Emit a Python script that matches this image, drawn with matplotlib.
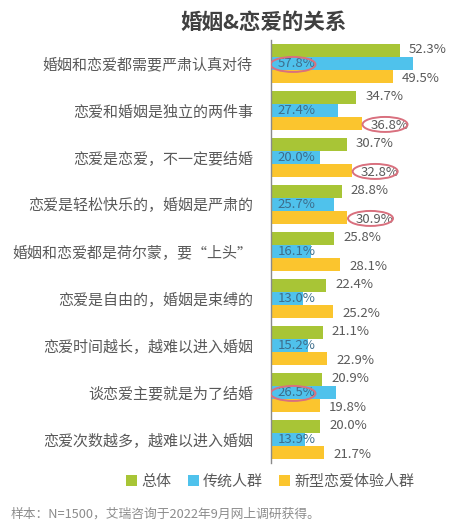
import matplotlib
matplotlib.use("Agg")
import matplotlib.pyplot as plt
from matplotlib.patches import Ellipse, Patch

plt.rcParams['font.family'] = ['Noto Sans CJK SC', 'DejaVu Sans']

categories = [
    "婚姻和恋爱都需要严肃认真对待",
    "恋爱和婚姻是独立的两件事",
    "恋爱是恋爱，不一定要结婚",
    "恋爱是轻松快乐的，婚姻是严肃的",
    "婚姻和恋爱都是荷尔蒙，要“上头”",
    "恋爱是自由的，婚姻是束缚的",
    "恋爱时间越长，越难以进入婚姻",
    "谈恋爱主要就是为了结婚",
    "恋爱次数越多，越难以进入婚姻",
]
total = [52.3, 34.7, 30.7, 28.8, 25.8, 22.4, 21.1, 20.9, 20.0]
traditional = [57.8, 27.4, 20.0, 25.7, 16.1, 13.0, 15.2, 26.5, 13.9]
new_type = [49.5, 36.8, 32.8, 30.9, 28.1, 25.2, 22.9, 19.8, 21.7]
series_names = ["总体", "传统人群", "新型恋爱体验人群"]
# highlighted labels: (category index, series index)
highlights = [(0, 1), (1, 2), (2, 2), (3, 2), (7, 1)]

colors = ["#a8c536", "#4fc2ec", "#fbc52e"]
W, H = 474, 529
fig = plt.figure(figsize=(W / 100, H / 100), dpi=100)
ax = fig.add_axes([271 / W, 66 / H, 203 / W, 423 / H])

h = 13 / 47
series = [total, traditional, new_type]
n = len(categories)
ys = list(range(n))
for s, (vals, c) in enumerate(zip(series, colors)):
    pos = [y + (s - 1) * h for y in ys]
    ax.barh(pos, vals, height=h, color=c, edgecolor='none')
    for y, v in zip(pos, vals):
        txt = f"{v:.1f}%"
        if s == 1:
            ax.annotate(txt, (0, y), xytext=(5, 0), textcoords='offset points',
                        ha='left', va='center', fontsize=9.5, color='#3d6d8c')
        else:
            dy = 0.5 if s == 0 else -1.2
            ax.annotate(txt, (v, y), xytext=(6.5, dy), textcoords='offset points',
                        ha='left', va='center', fontsize=9.5, color='#5a5a5a')

for ci, s in highlights:
    y = ci + (s - 1) * h
    if s == 1:
        cx = 22 / 2.46
    else:
        cx = series[s][ci] + 23.5 / 2.46
    ax.add_patch(Ellipse((cx, y + 0.02), 45 / 2.46, 15 / 47, fill=False,
                         edgecolor='#d9707e', linewidth=1.4, zorder=5))

ax.set_xlim(0, 203 / 2.46)
ax.set_ylim(n - 0.5, -0.5)
ax.set_yticks(ys)
ax.set_yticklabels(categories, fontsize=10.8, color='#595959')
ax.tick_params(axis='y', length=0, pad=13)
ax.set_xticks([])
for sp in ['top', 'right', 'bottom']:
    ax.spines[sp].set_visible(False)
ax.spines['left'].set_color('#8a8a8a')
ax.spines['left'].set_linewidth(1.0)

fig.text(264 / W, 1 - 22 / H, "婚姻&恋爱的关系", ha='center', va='center',
         fontsize=15.5, fontweight='bold', color='#404040')

handles = [Patch(facecolor=c, edgecolor='none') for c in colors]
fig.legend(handles, series_names, loc='center', bbox_to_anchor=(270 / W, 1 - 482 / H),
           ncol=3, frameon=False, fontsize=10.8, handlelength=0.75, handleheight=0.75,
           handletextpad=0.25, columnspacing=1.1, labelcolor='#595959')

fig.text(11 / W, 1 - 514 / H, "样本：N=1500，艾瑞咨询于2022年9月网上调研获得。",
         ha='left', va='center', fontsize=9.2, color='#8c8c8c')

fig.savefig("out.png", dpi=100)
